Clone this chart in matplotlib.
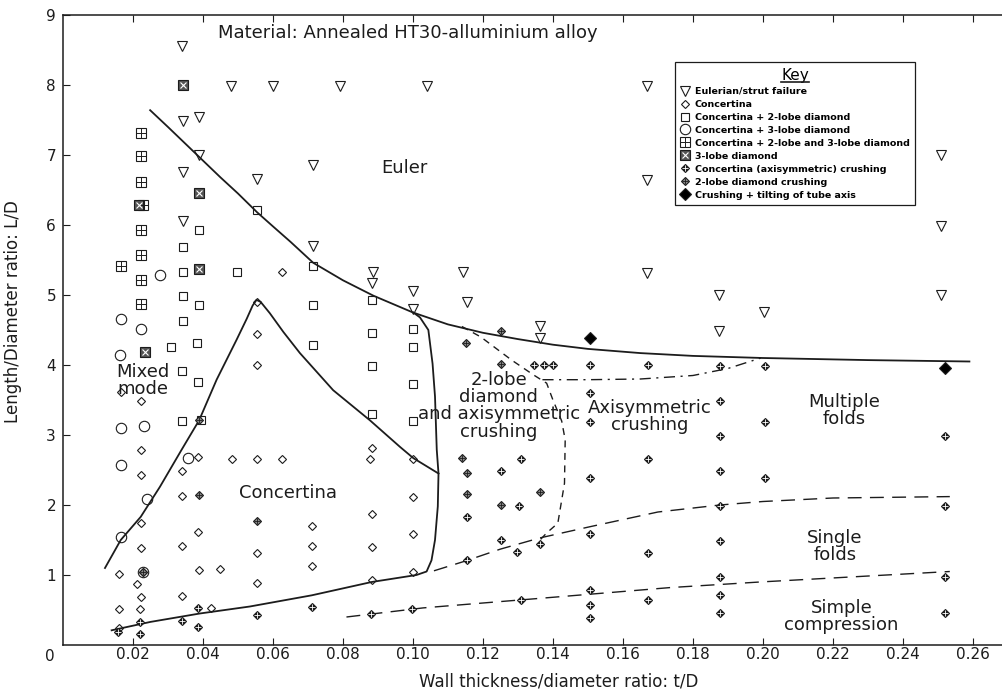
import matplotlib
matplotlib.use("Agg")
import matplotlib.pyplot as plt
from matplotlib.lines import Line2D
from matplotlib.legend_handler import HandlerTuple

plt.rcParams['font.family'] = ['DejaVu Sans']

# ---- test points: t/D (x) and L/D (y) ----
euler_x = [0.0339, 0.048, 0.0599, 0.0791, 0.1041, 0.167, 0.0389, 0.0342, 0.0389, 0.0342,
           0.0715, 0.0555, 0.167, 0.0342, 0.2508, 0.2508, 0.0715, 0.0887, 0.0883, 0.1144,
           0.167, 0.1001, 0.1153, 0.1001, 0.1363, 0.1363, 0.1875, 0.2508, 0.2003, 0.1875]
euler_y = [8.55, 7.99, 7.99, 7.99, 7.99, 7.99, 7.54, 7.48, 7.0, 6.76,
           6.85, 6.65, 6.64, 6.05, 7.0, 5.98, 5.70, 5.33, 5.17, 5.33,
           5.32, 5.05, 4.90, 4.80, 4.55, 4.38, 5.0, 5.0, 4.76, 4.48]

conc_x = [0.0625, 0.0553, 0.0555, 0.0555, 0.0165, 0.0222, 0.0222, 0.0222, 0.0387, 0.0339,
          0.0482, 0.0555, 0.0625, 0.0884, 0.0876, 0.0999, 0.0339, 0.0222, 0.0387, 0.0712,
          0.0999, 0.0882, 0.0339, 0.0222, 0.0553, 0.0712, 0.0882, 0.0999, 0.0712, 0.016,
          0.0389, 0.045, 0.0999, 0.0882, 0.0553, 0.0212, 0.0222, 0.0339, 0.016, 0.022,
          0.0422, 0.016, 0.0228]
conc_y = [5.33, 4.90, 4.44, 4.0, 3.62, 3.48, 2.79, 2.43, 2.68, 2.49,
          2.66, 2.66, 2.66, 2.82, 2.66, 2.66, 2.13, 1.74, 1.61, 1.70,
          2.12, 1.87, 1.42, 1.39, 1.32, 1.42, 1.40, 1.59, 1.13, 1.02,
          1.07, 1.09, 1.05, 0.93, 0.88, 0.87, 0.69, 0.70, 0.51, 0.51,
          0.53, 0.25, 1.04]

c2_x = [0.0555, 0.0389, 0.0342, 0.0344, 0.0498, 0.0715, 0.0342, 0.0389, 0.0715, 0.0342,
        0.0308, 0.0382, 0.0713, 0.0341, 0.0386, 0.0339, 0.0395, 0.0884, 0.0884, 0.0884,
        0.0884, 0.1001, 0.1001, 0.1001, 0.1001]
c2_y = [6.21, 5.93, 5.69, 5.33, 5.33, 5.42, 4.99, 4.85, 4.85, 4.63,
        4.26, 4.31, 4.28, 3.92, 3.76, 3.20, 3.22, 4.93, 4.45, 3.99,
        3.30, 4.52, 4.26, 3.73, 3.20]

c3_x = [0.0277, 0.0165, 0.0223, 0.0164, 0.0165, 0.0232, 0.0165, 0.0356, 0.0241, 0.0165, 0.0228]
c3_y = [5.29, 4.65, 4.52, 4.14, 3.10, 3.13, 2.57, 2.67, 2.09, 1.55, 1.04]

c23_x = [0.0223, 0.0223, 0.0223, 0.0228, 0.0223, 0.0223, 0.0166, 0.0223, 0.0223]
c23_y = [7.31, 6.98, 6.61, 6.28, 5.93, 5.57, 5.41, 5.22, 4.87]

lobe3_x = [0.0342, 0.0389, 0.0218, 0.0389, 0.0234]
lobe3_y = [8.0, 6.45, 6.28, 5.37, 4.19]

axi_x = [0.0387, 0.022, 0.0339, 0.0553, 0.0712, 0.0387, 0.0158, 0.022, 0.0879, 0.0998,
         0.1153, 0.1253, 0.1296, 0.1363, 0.131, 0.1303, 0.1253, 0.131, 0.1153,
         0.1346, 0.1374, 0.14,
         0.1506, 0.1506, 0.1506, 0.1506, 0.1506, 0.1506, 0.1506, 0.1506,
         0.1673, 0.1673, 0.1673, 0.1673,
         0.1877, 0.1877, 0.1877, 0.1877, 0.1877, 0.1877, 0.1877, 0.1877, 0.1877,
         0.2006, 0.2006, 0.2006,
         0.2519, 0.2519, 0.2519, 0.2519]
axi_y = [0.53, 0.33, 0.34, 0.43, 0.55, 0.26, 0.19, 0.16, 0.45, 0.51,
         1.21, 1.50, 1.33, 1.44, 2.65, 1.99, 2.49, 0.64, 1.83,
         4.0, 4.0, 4.0,
         4.0, 3.60, 3.19, 2.38, 1.58, 0.78, 0.57, 0.38,
         4.0, 2.65, 1.31, 0.64,
         3.99, 3.49, 2.98, 2.49, 1.99, 1.48, 0.97, 0.71, 0.46,
         3.99, 3.19, 2.38,
         2.98, 1.98, 0.97, 0.46]

lobe2_x = [0.1151, 0.1253, 0.1253, 0.1139, 0.1153, 0.1153, 0.1363, 0.1253,
           0.0389, 0.0389, 0.0553, 0.0228]
lobe2_y = [4.31, 4.49, 4.01, 2.67, 2.46, 2.16, 2.18, 2.0,
           3.22, 2.14, 1.77, 1.04]

tilt_x = [0.1506, 0.2519]
tilt_y = [4.39, 3.96]

# ---- mode boundaries ----
euler_line_x = [0.0249, 0.030, 0.035, 0.040, 0.045, 0.050, 0.0555, 0.060, 0.065, 0.0715,
                0.080, 0.0887, 0.100, 0.110, 0.120, 0.130, 0.140, 0.150, 0.165, 0.180,
                0.200, 0.230, 0.259]
euler_line_y = [7.64, 7.40, 7.16, 6.92, 6.68, 6.45, 6.18, 5.98, 5.76, 5.46,
                5.21, 4.99, 4.75, 4.58, 4.46, 4.37, 4.29, 4.23, 4.17, 4.13,
                4.10, 4.07, 4.05]

mixed_line_x = [0.012, 0.0165, 0.0222, 0.0277, 0.0339, 0.0389, 0.0439, 0.0496, 0.0525, 0.0542,
                0.0553, 0.0565, 0.0591, 0.0630, 0.0677, 0.0772, 0.0877, 0.0963, 0.1001, 0.1073]
mixed_line_y = [1.10, 1.50, 1.83, 2.26, 2.79, 3.21, 3.79, 4.36, 4.66, 4.85,
                4.93, 4.90, 4.74, 4.47, 4.17, 3.64, 3.21, 2.83, 2.67, 2.45]

conc_line_x = [0.1001, 0.102, 0.1044, 0.1056, 0.1063, 0.1068, 0.1073, 0.1071, 0.1063, 0.1053,
               0.1039, 0.101, 0.0882, 0.0711, 0.0534, 0.0391, 0.025, 0.0139]
conc_line_y = [4.75, 4.68, 4.50, 4.02, 3.55, 2.79, 2.45, 1.98, 1.50, 1.21,
               1.05, 1.00, 0.90, 0.71, 0.55, 0.45, 0.33, 0.21]

lobe_line_x = [0.114, 0.1194, 0.1282, 0.1344, 0.1382, 0.140, 0.1425, 0.1435, 0.1433, 0.1414,
               0.1382, 0.1363]
lobe_line_y = [4.55, 4.40, 4.07, 3.86, 3.74, 3.50, 3.20, 2.93, 2.31, 1.74,
               1.60, 1.50]

axi_top_x = [0.137, 0.150, 0.165, 0.180, 0.190, 0.1994]
axi_top_y = [3.79, 3.79, 3.80, 3.85, 3.95, 4.10]

folds_line_x = [0.106, 0.115, 0.125, 0.1363, 0.1506, 0.170, 0.1877, 0.200, 0.220, 0.2534]
folds_line_y = [1.06, 1.20, 1.37, 1.53, 1.69, 1.90, 2.00, 2.05, 2.10, 2.12]

simple_line_x = [0.081, 0.1029, 0.120, 0.142, 0.1734, 0.1991, 0.2534]
simple_line_y = [0.40, 0.53, 0.60, 0.69, 0.82, 0.90, 1.05]

x_ticks = [0.02, 0.04, 0.06, 0.08, 0.10, 0.12, 0.14, 0.16, 0.18, 0.20, 0.22, 0.24, 0.26]
y_ticks = [1, 2, 3, 4, 5, 6, 7, 8, 9]

ink = '#1c1c1c'


def mk(marker, ms, fc='none', ec=ink, mew=0.8):
    return dict(marker=marker, ms=ms, mfc=fc, mec=ec, mew=mew, ls='none')


series = [
    ('Eulerian/strut failure', euler_x, euler_y, [mk('v', 6.5)]),
    ('Concertina', conc_x, conc_y, [mk('D', 4.2)]),
    ('Concertina + 2-lobe diamond', c2_x, c2_y, [mk('s', 6)]),
    ('Concertina + 3-lobe diamond', c3_x, c3_y, [mk('o', 7.5)]),
    ('Concertina + 2-lobe and 3-lobe diamond', c23_x, c23_y,
     [mk('s', 6.5), mk('+', 6.5, mew=0.7)]),
    ('3-lobe diamond', lobe3_x, lobe3_y,
     [mk('s', 6.5, fc='#555555'), mk('x', 4, ec='white', mew=0.8)]),
    ('Concertina (axisymmetric) crushing', axi_x, axi_y,
     [mk('D', 4.3, fc=ink), mk('+', 4.5, ec='white', mew=0.6)]),
    ('2-lobe diamond crushing', lobe2_x, lobe2_y,
     [mk('D', 4.3, fc='#8c8c8c'), mk('+', 4.5, ec=ink, mew=0.6)]),
    ('Crushing + tilting of tube axis', tilt_x, tilt_y, [mk('D', 5.8, fc='black')]),
]

fig = plt.figure(figsize=(10.03, 6.94), dpi=100)
ax = fig.add_axes([0.0628, 0.0706, 0.9372, 0.9078])

# boundaries
ax.plot(euler_line_x, euler_line_y, color=ink, lw=1.3)
ax.plot(mixed_line_x, mixed_line_y, color=ink, lw=1.3)
ax.plot(conc_line_x, conc_line_y, color=ink, lw=1.3)
ax.plot(lobe_line_x, lobe_line_y, color=ink, lw=1.0, ls=(0, (5, 4)))
ax.plot(axi_top_x, axi_top_y, color=ink, lw=1.0, ls=(0, (8, 4, 1.5, 4)))
ax.plot(folds_line_x, folds_line_y, color=ink, lw=1.0, ls=(0, (10, 6)))
ax.plot(simple_line_x, simple_line_y, color=ink, lw=1.0, ls=(0, (10, 6)))

handles, labels = [], []
for name, xs, ys, layers in series:
    for i, st in enumerate(layers):
        ax.plot(xs, ys, zorder=3 + i, **st)
    handles.append(tuple(Line2D([], [], **st) for st in layers))
    labels.append(name)

# region labels
lab = dict(fontsize=13, color=ink, ha='center', va='center', linespacing=0.95)
ax.text(0.0443, 8.74, 'Material: Annealed HT30-alluminium alloy', fontsize=13,
        color=ink, ha='left', va='center')
ax.text(0.0977, 6.81, 'Euler', **lab)
ax.text(0.0229, 3.78, 'Mixed\nmode', **lab)
ax.text(0.0643, 2.17, 'Concertina', **lab)
ax.text(0.1245, 3.42, '2-lobe\ndiamond\nand axisymmetric\ncrushing', **lab)
ax.text(0.1677, 3.26, 'Axisymmetric\ncrushing', **lab)
ax.text(0.2231, 3.35, 'Multiple\nfolds', **lab)
ax.text(0.2206, 1.41, 'Single\nfolds', **lab)
ax.text(0.2225, 0.41, 'Simple\ncompression', **lab)

# axes
ax.set_xlim(0, 0.2686)
ax.set_ylim(0, 9)
ax.set_xticks(x_ticks)
ax.set_xticklabels([f'{v:.2f}' for v in x_ticks])
ax.set_yticks(y_ticks)
ax.set_yticklabels([str(v) for v in y_ticks])
ax.tick_params(axis='x', direction='in', length=5, top=True, labeltop=False,
               labelsize=11, pad=1.5, colors=ink)
ax.tick_params(axis='y', direction='in', length=5, labelsize=11, pad=5, colors=ink)
ax.spines['right'].set_visible(False)
for s in ('left', 'bottom', 'top'):
    ax.spines[s].set_color(ink)
    ax.spines[s].set_linewidth(1.1)
ax.text(-0.0037, -0.16, '0', fontsize=11, color=ink, ha='center', va='center',
        clip_on=False)

ax.set_xlabel('Wall thickness/diameter ratio: t/D', fontsize=12, color=ink, va='center')
ax.xaxis.set_label_coords(0.527, -0.058)
ax.set_ylabel('Length/Diameter ratio: L/D', fontsize=12, color=ink)
ax.yaxis.set_label_coords(-0.0436, 0.53)

# key
leg = ax.legend(handles, labels, handler_map={tuple: HandlerTuple(ndivide=1)},
                loc='upper left', bbox_to_anchor=(0.651, 0.925), title='Key',
                prop={'size': 6.8, 'weight': 'bold'}, title_fontsize=11,
                frameon=True, fancybox=False, edgecolor=ink, framealpha=1,
                handlelength=0.9, handletextpad=0.6, labelspacing=0.42,
                borderpad=0.6, borderaxespad=0)
leg.get_frame().set_linewidth(0.9)

fig.canvas.draw()
bb = leg.get_title().get_window_extent().transformed(fig.transFigure.inverted())
fig.add_artist(Line2D([bb.x0, bb.x1], [bb.y0 + 0.001, bb.y0 + 0.001],
                      transform=fig.transFigure, color=ink, lw=1.2))

fig.savefig('out.png', dpi=100)
